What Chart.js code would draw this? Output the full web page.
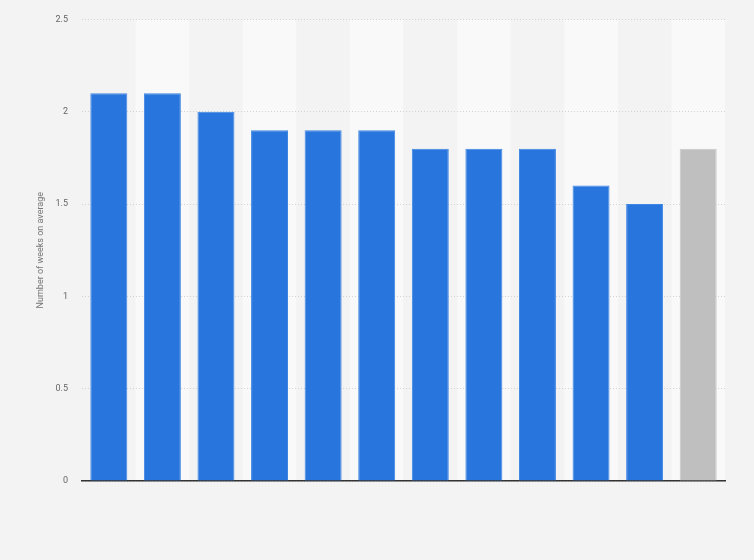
<!DOCTYPE html>
<html>
<head>
<meta charset="utf-8">
<script src="https://cdn.jsdelivr.net/npm/chart.js@4/dist/chart.umd.min.js"></script>
<style>
html,body{margin:0;padding:0;background:#f3f3f3;}
#wrap{width:754px;height:560px;position:relative;}
</style>
</head>
<body>
<div id="wrap"><canvas id="c"></canvas></div>
<script>
const categories = ["1","2","3","4","5","6","7","8","9","10","11","12"];
const weeks = [2.1, 2.1, 2.0, 1.9, 1.9, 1.9, 1.8, 1.8, 1.8, 1.6, 1.5, 1.8];
const barColors = ["#2876dd","#2876dd","#2876dd","#2876dd","#2876dd","#2876dd","#2876dd","#2876dd","#2876dd","#2876dd","#2876dd","#bfbfbf"];
const yTicks = [0, 0.5, 1, 1.5, 2, 2.5];

const bandPlugin = {
  id: 'bands',
  beforeDraw(chart) {
    const {ctx, chartArea, scales} = chart;
    const x = scales.x;
    const n = categories.length;
    const w = (chartArea.right - chartArea.left) / n;
    ctx.save();
    for (let i = 0; i < n; i++) {
      const cx = x.getPixelForValue(i);
      ctx.fillStyle = (i % 2 === 1) ? '#f9f9f9' : '#f3f3f3';
      ctx.fillRect(cx - w / 2, chartArea.top, w, chartArea.bottom - chartArea.top);
    }
    ctx.restore();
  }
};

new Chart(document.getElementById('c'), {
  type: 'bar',
  data: {
    labels: categories,
    datasets: [{
      data: weeks,
      backgroundColor: barColors,
      borderColor: barColors.map(c => c === '#bfbfbf' ? '#c8c8c8' : '#3f86e3'),
      borderWidth: 1,
      barPercentage: 0.69,
      categoryPercentage: 1.0
    }]
  },
  options: {
    responsive: true,
    maintainAspectRatio: false,
    animation: false,
    layout: { padding: { left: 0, right: 29, top: 14, bottom: 79 } },
    plugins: { legend: { display: false }, tooltip: { enabled: false } },
    scales: {
      x: {
        grid: { display: false, drawTicks: false },
        border: { display: true, color: '#333333', width: 1.5 },
        ticks: { display: false }
      },
      y: {
        min: 0, max: 2.5,
        afterBuildTicks(axis) { axis.ticks = yTicks.map(v => ({ value: v })); },
        afterFit(axis) { axis.width = 82; },
        grid: { color: '#d2d2d2', drawTicks: false, lineWidth: 1 },
        border: { display: false, dash: [1, 2] },
        ticks: {
          color: '#666666', padding: 14,
          font: { family: 'Roboto', size: 9 },
          callback: v => String(v)
        },
        title: {
          display: true, text: 'Number of weeks on average',
          color: '#777777', font: { family: 'Roboto', size: 9 },
          padding: { top: 35, bottom: 0 }
        }
      }
    }
  },
  plugins: [bandPlugin]
});
</script>
</body>
</html>
